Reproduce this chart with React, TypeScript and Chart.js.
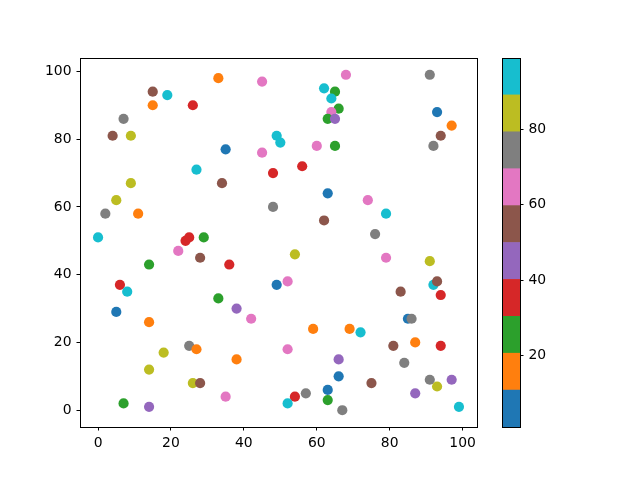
import React, { useEffect, useRef } from "react";
import { Chart, registerables } from "chart.js";

Chart.register(...registerables);

// ---- data ----
const xs = [
  33, 45, 15, 19, 15, 26, 7, 4, 9, 35, 45, 27, 48, 34, 9, 5, 2, 11, 48, 0, 24, 25, 29, 49, 50,
  68, 91, 62, 65, 64, 66, 64, 63, 65, 93, 97, 94, 92, 60, 65, 56, 63, 74, 79, 62, 76,
  22, 28, 14, 36, 6, 8, 49, 33, 38, 5, 42, 14, 25, 27, 18, 38, 14, 26, 28, 35, 7, 14,
  54, 52, 79, 91, 92, 93, 94, 83, 85, 86, 59, 69, 72, 52, 81, 87, 94, 66, 84, 66, 75, 91, 97, 93, 63, 63, 57, 54, 52, 87, 67, 99,
];
const ys = [
  98, 97, 94, 93, 90, 90, 86, 81, 81, 77, 76, 71, 70, 67, 67, 62, 58, 58, 60, 51, 50, 51, 51, 81, 79,
  99, 99, 95, 94, 92, 89, 88, 86, 86, 88, 84, 81, 78, 78, 78, 72, 64, 62, 58, 56, 52,
  47, 45, 43, 43, 37, 35, 37, 33, 30, 29, 27, 26, 19, 18, 17, 15, 12, 8, 8, 4, 2, 1,
  46, 38, 45, 44, 37, 38, 34, 35, 27, 27, 24, 24, 23, 18, 19, 20, 19, 15, 14, 10, 8, 9, 9, 7, 6, 3, 5, 4, 2, 5, 0, 1,
];
const cs = [
  15, 65, 55, 94, 15, 35, 75, 55, 84, 6, 65, 94, 35, 55, 84, 84, 75, 15, 75, 94, 35, 35, 25, 94, 94,
  65, 75, 94, 25, 94, 25, 65, 25, 45, 6, 15, 55, 75, 65, 25, 35, 6, 65, 94, 55, 75,
  65, 55, 25, 35, 35, 94, 6, 25, 45, 6, 65, 15, 75, 15, 84, 15, 84, 84, 55, 65, 25, 45,
  84, 65, 65, 84, 94, 55, 35, 55, 6, 75, 15, 15, 94, 65, 55, 15, 35, 45, 75, 6, 55, 75, 45, 84, 6, 25, 75, 35, 94, 45, 75, 94,
];
const xTicks = [0, 20, 40, 60, 80, 100];
const yTicks = [0, 20, 40, 60, 80, 100];
const cbTicks = [20, 40, 60, 80];
const cMin = 1;
const cMax = 99;
const tab10 = [
  "#1f77b4", "#ff7f0e", "#2ca02c", "#d62728", "#9467bd",
  "#8c564b", "#e377c2", "#7f7f7f", "#bcbd22", "#17becf",
];

const FONT = { family: "DejaVu Sans", size: 13.9 };

function colorOf(v: number) {
  const b = Math.max(0, Math.min(9, Math.floor(((v - cMin) / (cMax - cMin)) * 10)));
  return tab10[b];
}

const framePlugin = {
  id: "frame",
  afterDraw(chart: any) {
    const { ctx, chartArea: a } = chart;
    ctx.save();
    ctx.strokeStyle = "#000";
    ctx.lineWidth = 1;
    ctx.strokeRect(Math.round(a.left) + 0.5, Math.round(a.top) + 0.5, Math.round(a.right - a.left), Math.round(a.bottom - a.top));
    ctx.restore();
  },
};

const axisCommon = (ticks: number[]) => ({
  type: "linear" as const,
  afterBuildTicks: (s: any) => {
    s.ticks = ticks.map((v) => ({ value: v }));
  },
  ticks: { color: "#000", font: FONT, padding: 5 },
  grid: { display: true, drawOnChartArea: false, drawTicks: true, tickLength: 3.5, tickColor: "#000", tickWidth: 1 },
  border: { display: false },
});

export default function App() {
  const mainRef = useRef<HTMLCanvasElement>(null);
  const cbRef = useRef<HTMLCanvasElement>(null);

  useEffect(() => {
    const main = new Chart(mainRef.current!, {
      type: "scatter",
      data: {
        datasets: [
          {
            data: xs.map((x, i) => ({ x, y: ys[i] })),
            backgroundColor: cs.map(colorOf),
            pointRadius: 5.1,
            pointHoverRadius: 5.1,
            borderWidth: 0,
          },
        ],
      },
      options: {
        responsive: false,
        animation: false,
        devicePixelRatio: 1,
        layout: { padding: { left: 0, top: 58, right: 163, bottom: 0 } },
        plugins: { legend: { display: false }, tooltip: { enabled: false } },
        scales: {
          x: {
            ...axisCommon(xTicks),
            min: -4.95,
            max: 103.95,
            afterFit: (s: any) => {
              s.height = 53;
            },
          },
          y: {
            ...axisCommon(yTicks),
            min: -4.95,
            max: 103.95,
            afterFit: (s: any) => {
              s.width = 80;
            },
          },
        },
      } as any,
      plugins: [framePlugin],
    });

    const edges: number[] = [];
    for (let i = 0; i <= 10; i++) edges.push(cMin + ((cMax - cMin) * i) / 10);

    const cb = new Chart(cbRef.current!, {
      type: "bar",
      data: {
        labels: [""],
        datasets: tab10.map((c, i) => ({
          data: [[edges[i], edges[i + 1]]] as any,
          backgroundColor: c,
          borderWidth: 0,
          barPercentage: 1,
          categoryPercentage: 1,
          grouped: false,
        })),
      },
      options: {
        responsive: false,
        animation: false,
        devicePixelRatio: 1,
        layout: { padding: { left: 502, top: 58, right: 0, bottom: 53 } },
        plugins: { legend: { display: false }, tooltip: { enabled: false } },
        scales: {
          x: { display: false },
          y: {
            ...axisCommon(cbTicks),
            position: "right",
            min: cMin,
            max: cMax,
            afterFit: (s: any) => {
              s.width = 120;
            },
          },
        },
      } as any,
      plugins: [framePlugin],
    });

    return () => {
      main.destroy();
      cb.destroy();
    };
  }, []);

  return (
    <div style={{ position: "fixed", left: 0, top: 0, width: 640, height: 480, background: "#fff" }}>
      <canvas ref={mainRef} width={640} height={480} style={{ position: "absolute", left: 0, top: 0, width: 640, height: 480 }} />
      <canvas ref={cbRef} width={640} height={480} style={{ position: "absolute", left: 0, top: 0, width: 640, height: 480, pointerEvents: "none" }} />
    </div>
  );
}
